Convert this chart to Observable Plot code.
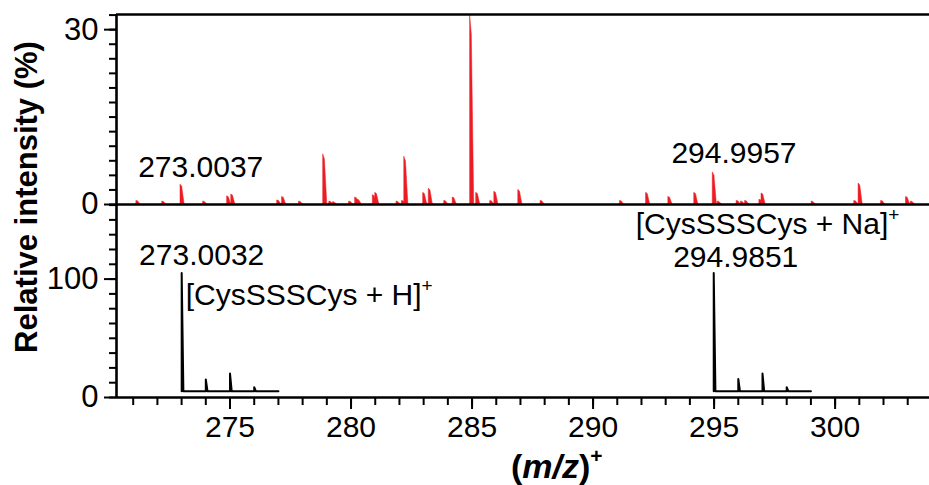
<!DOCTYPE html>
<html><head><meta charset="utf-8">
<script src="https://cdn.jsdelivr.net/npm/d3@7"></script>
<script src="https://cdn.jsdelivr.net/npm/@observablehq/plot@0.6"></script>
<style>
body{margin:0;background:#fff;}
#wrap{position:relative;width:929px;height:485px;overflow:hidden;font-family:"Liberation Sans",Arial,sans-serif;color:#000;}
#wrap svg{position:absolute;left:0;}
</style></head><body><div id="wrap"></div>
<script>
// ---------- data ----------
const xDomain = [270.31, 303.9];
const topYMax = 32.6;
const botYMax = 163;

// experimental spectrum (top, red): centroid m/z and relative intensity (%)
const expMz = [271.18, 272.25, 273.0037, 273.94, 274.93, 275.10, 277.00, 277.20, 277.90, 278.90,
  279.15, 279.30, 279.97, 280.22, 280.32, 280.95, 281.05, 281.93, 282.15, 282.25,
  283.03, 283.26, 283.90, 284.25, 284.97, 285.22, 285.80, 285.97, 286.96, 287.88,
  291.16, 292.24, 293.16, 294.23, 294.9957, 295.20, 295.98, 296.16, 296.33, 296.92,
  297.01, 299.08, 300.84, 301.02, 301.95, 302.98, 303.18];
const expIntensity = [0.6, 0.5, 3.4, 0.5, 1.4, 1.7, 0.7, 1.3, 0.5, 8.6,
  0.5, 0.4, 0.5, 1.2, 0.8, 1.6, 2.0, 0.5, 0.6, 8.2,
  2.0, 2.7, 0.6, 1.2, 32.4, 2.0, 0.6, 2.2, 2.5, 0.6,
  0.6, 2.0, 1.3, 2.0, 5.5, 0.5, 0.6, 0.5, 0.6, 0.8,
  1.9, 0.5, 0.6, 3.6, 0.6, 1.3, 0.5];

// simulated isotope patterns (bottom, black)
const simHMz = [273.0032, 274.0, 275.0, 276.0];
const simHIntensity = [100, 10, 15, 3.5];
const simHEnd = 277.0;
const simNaMz = [294.9851, 296.0, 297.0, 298.0];
const simNaIntensity = [100, 10.5, 15, 3.5];
const simNaEnd = 299.0;

// tick labels
const topMajorTicks = [0, 30];
const topMinorTicks = [0, 2.5, 5, 7.5, 10, 12.5, 15, 17.5, 20, 22.5, 25, 27.5, 30, 32.5];
const botMajorTicks = [0, 100];
const botMinorTicks = [0, 12.5, 25, 37.5, 50, 62.5, 75, 87.5, 100, 112.5, 125, 137.5, 150, 162.5];
const xMajorTicks = [275, 280, 285, 290, 295, 300];
const xMinorTicks = [271, 272, 273, 274, 275, 276, 277, 278, 279, 280, 281, 282, 283, 284, 285, 286, 287,
  288, 289, 290, 291, 292, 293, 294, 295, 296, 297, 298, 299, 300, 301, 302, 303];

// annotations
const topLabelText = ["273.0037", "294.9957"];
const topLabelMz = [273.0037, 294.9957];
const botLabelText = ["273.0032", "[CysSSSCys + H]^+", "294.9851", "[CysSSSCys + Na]^+"];
const botLabelMz = [273.0032, 273.0032, 294.9851, 294.9851];

// ---------- build ----------
const simBase = 5.2; // drawn baseline of the simulated patterns
const W = 929;
const RED = "#ec1c24";
const font = '"Liberation Sans", Arial, sans-serif';

// peak outlines from centroids
const expProfile = [];
expMz.forEach((m, k) => {
  const h = expIntensity[k];
  expProfile.push({id: k, mz: m - 0.05, v: 0}, {id: k, mz: m - 0.05, v: h},
    {id: k, mz: m + 0.02, v: h * 0.9}, {id: k, mz: m + 0.12, v: 0});
});
function simProfile(mzs, ints, end, id) {
  const pts = [{id, mz: mzs[0], v: simBase}];
  mzs.forEach((m, k) => {
    pts.push({id, mz: m, v: simBase}, {id, mz: m, v: simBase + ints[k]}, {id, mz: m + 0.07, v: simBase});
  });
  pts.push({id, mz: end, v: simBase});
  return pts;
}
const sim = [...simProfile(simHMz, simHIntensity, simHEnd, "H"), ...simProfile(simNaMz, simNaIntensity, simNaEnd, "Na")];

const topLabels = topLabelText.map((t, k) => ({t, mz: topLabelMz[k], v: expIntensity[expMz.indexOf(topLabelMz[k])]}));
const botLabels = botLabelText.map((t, k) => ({t, mz: botLabelMz[k], v: simBase + 100}));

const yAxisStyle = {strokeWidth: 2, fontSize: 31, fontFamily: font};
const xAxisStyle = {strokeWidth: 2, fontSize: 30, fontFamily: font};
const frameLine = {stroke: "#000", strokeWidth: 2.6};

const topPlot = Plot.plot({
  width: W, height: 206,
  marginLeft: 116, marginRight: 0, marginTop: 14, marginBottom: 2,
  x: {domain: xDomain, axis: null, label: null},
  y: {domain: [0, topYMax], label: null},
  style: {background: "transparent", fontFamily: font, fontSize: "28px", overflow: "visible"},
  marks: [
    Plot.areaY(expProfile, {x: "mz", y: "v", z: "id", fill: RED, stroke: RED, strokeWidth: 0.5}),
    Plot.ruleY([0], frameLine),
    Plot.ruleY([topYMax], frameLine),
    Plot.ruleX([xDomain[0]], frameLine),
    Plot.axisY(topMinorTicks, {...yAxisStyle, tickSize: 7, tickFormat: () => "", label: null}),
    Plot.axisY(topMajorTicks, {...yAxisStyle, tickSize: 12, tickPadding: 6, label: null}),
    Plot.text(topLabels.slice(0, 1), {x: "mz", y: "v", text: "t", dx: 19, dy: -8, lineAnchor: "bottom", fontSize: 30, fontFamily: font}),
    Plot.text(topLabels.slice(1), {x: "mz", y: "v", text: "t", dx: 20, dy: -9, lineAnchor: "bottom", fontSize: 30, fontFamily: font})
  ]
});

const botPlot = Plot.plot({
  width: W, height: 281,
  marginLeft: 116, marginRight: 0, marginTop: 0, marginBottom: 88,
  x: {domain: xDomain, label: null},
  y: {domain: [0, botYMax], label: null},
  style: {background: "transparent", fontFamily: font, fontSize: "28px", overflow: "visible"},
  marks: [
    Plot.lineY(sim, {x: "mz", y: "v", z: "id", stroke: "#000", strokeWidth: 2, curve: "linear"}),
    Plot.ruleY([0], frameLine),
    Plot.ruleX([xDomain[0]], frameLine),
    Plot.axisY(botMinorTicks, {...yAxisStyle, tickSize: 7, tickFormat: () => "", label: null}),
    Plot.axisY(botMajorTicks, {...yAxisStyle, tickSize: 12, tickPadding: 6, label: null}),
    Plot.axisX(xMinorTicks, {...xAxisStyle, tickSize: 8, tickFormat: () => "", label: null}),
    Plot.axisX(xMajorTicks, {...xAxisStyle, tickSize: 12, tickPadding: 6, label: null}),
    Plot.text([botLabels[0]], {x: "mz", y: "v", text: "t", dx: 20, dy: -8, lineAnchor: "bottom", fontSize: 30, fontFamily: font}),
    Plot.text([botLabels[1]], {x: "mz", y: "v", text: "t", dx: 4, dy: 32, lineAnchor: "bottom", textAnchor: "start", fontSize: 30, fontFamily: font}),
    Plot.text([botLabels[2]], {x: "mz", y: "v", text: "t", dx: 22, dy: -6, lineAnchor: "bottom", fontSize: 30, fontFamily: font}),
    Plot.text([botLabels[3]], {x: "mz", y: "v", text: "t", dx: -78, dy: -39, lineAnchor: "bottom", textAnchor: "start", fontSize: 30, fontFamily: font})
  ]
});

// superscripts
function supify(svg) {
  svg.querySelectorAll("text").forEach(el => {
    const s = el.textContent;
    if (s.includes("^+") && el.children.length === 0) {
      el.textContent = s.replace("^+", "");
      const ts = document.createElementNS("http://www.w3.org/2000/svg", "tspan");
      ts.setAttribute("dy", "-13");
      ts.setAttribute("font-size", "19");
      ts.textContent = "+";
      el.appendChild(ts);
    }
  });
}
supify(botPlot);

const wrap = document.getElementById("wrap");
topPlot.style.top = "0px";
botPlot.style.top = "204px";
wrap.appendChild(topPlot);
wrap.appendChild(botPlot);

// axis titles overlay
const ov = d3.select(wrap).append("svg")
  .attr("width", W).attr("height", 485)
  .style("top", "0px").style("pointer-events", "none");
ov.append("text")
  .attr("transform", "translate(37,197) rotate(-90)")
  .attr("text-anchor", "middle")
  .attr("font-family", font).attr("font-weight", "bold").attr("font-size", 31)
  .text("Relative intensity (%)");
const xt = ov.append("text")
  .attr("x", 511).attr("y", 478)
  .attr("font-family", font).attr("font-weight", "bold").attr("font-size", 34);
xt.append("tspan").text("(");
xt.append("tspan").attr("font-style", "italic").text("m/z");
xt.append("tspan").text(")");
xt.append("tspan").attr("font-size", 21).attr("dy", -15).text("+");
</script></body></html>
